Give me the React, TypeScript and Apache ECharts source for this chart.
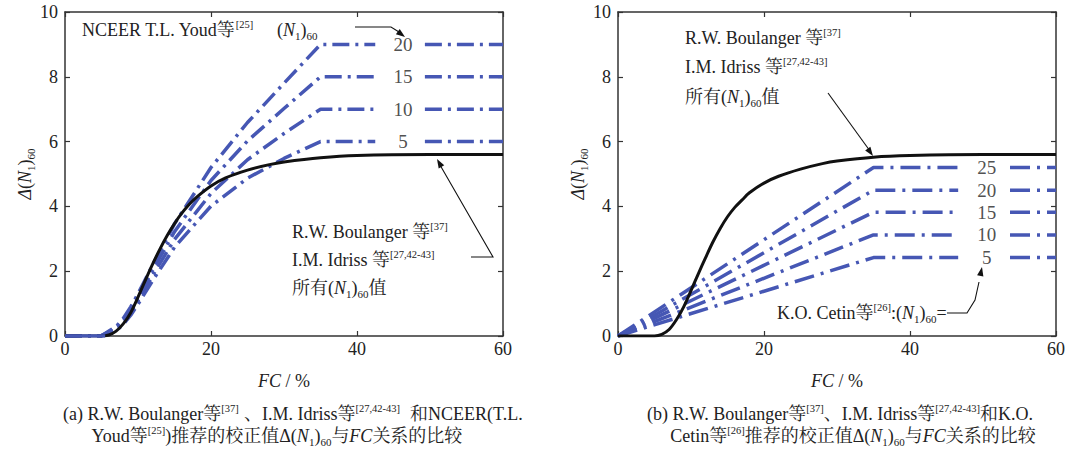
import React, { useEffect, useRef } from 'react';
import * as echarts from 'echarts';

const SERIF = '"Liberation Serif", "Times New Roman", "Noto Serif CJK SC", "Noto Sans CJK SC", serif';
const BLUE = '#4657b4';
const INK = '#222';
const LINE = '#333';

// Axes
const X_MIN = 0, X_MAX = 60, X_STEP = 20;
const Y_MIN = 0, Y_MAX = 10, Y_STEP = 2;

// Boulanger & Idriss curve, panel (a) and panel (b)
const FC_BLACK = [0, 5, 6, 7, 8, 9, 10, 11, 12, 13, 14, 15, 16, 17, 18, 20, 22, 25, 28, 30, 35, 40, 50, 60];
const D_BLACK_A = [0, 0, 0.03, 0.15, 0.38, 0.72, 1.2, 1.72, 2.22, 2.68, 3.1, 3.47, 3.79, 4.06, 4.28, 4.63, 4.88, 5.12, 5.29, 5.37, 5.5, 5.57, 5.6, 5.6];
const D_BLACK_B = [0, 0, 0.05, 0.2, 0.5, 0.9, 1.4, 1.92, 2.42, 2.9, 3.32, 3.68, 3.97, 4.2, 4.42, 4.72, 4.93, 5.15, 5.32, 5.4, 5.52, 5.57, 5.6, 5.6];

// NCEER (Youd) curves, null = gap for the label
const FC_NCEER = [0, 5, 7, 8, 9, 10, 12, 15, 20, 25, 30, 35, 42.5, null, 49.3, 60];
const NCEER_5 = [0, 0.01, 0.16, 0.36, 0.64, 0.98, 1.71, 2.74, 4.01, 4.87, 5.48, 6, 6, null, 6, 6];
const NCEER_10 = [0, 0.01, 0.21, 0.42, 0.73, 1.09, 1.87, 2.98, 4.4, 5.44, 6.25, 7, 7, null, 7, 7];
const NCEER_15 = [0, 0.01, 0.25, 0.49, 0.81, 1.19, 2.03, 3.22, 4.8, 6.02, 7.02, 8, 8, null, 8, 8];
const NCEER_20 = [0, 0.01, 0.29, 0.55, 0.9, 1.3, 2.19, 3.46, 5.2, 6.59, 7.8, 9, 9, null, 9, 9];
const NCEER_FLAT_FC = [0, 5.5];
const NCEER_FLAT_D = [0, 0];
const NCEER_LABELS = ['5', '10', '15', '20'];
const NCEER_LEVELS = [6, 7, 8, 9];
const NCEER_LABEL_FC = 46.3;

// Cetin curves
const FC_CETIN = [0, 35, 46.6, null, 53.7, 60];
const CETIN_5 = [0, 2.42, 2.42, null, 2.42, 2.42];
const CETIN_10 = [0, 3.12, 3.12, null, 3.12, 3.12];
const CETIN_15 = [0, 3.82, 3.82, null, 3.82, 3.82];
const CETIN_20 = [0, 4.5, 4.5, null, 4.5, 4.5];
const CETIN_25 = [0, 5.2, 5.2, null, 5.2, 5.2];
const CETIN_LABELS = ['5', '10', '15', '20', '25'];
const CETIN_LEVELS = [2.42, 3.12, 3.82, 4.5, 5.2];
const CETIN_LABEL_FC = 50.5;

const pairs = (fc: (number | null)[], v: (number | null)[]) =>
  fc.map((x, i) =>
    x === null || v[i] === null
      ? [((fc[i - 1] as number) + (fc[i + 1] as number)) / 2, '-']
      : [x, v[i]]
  );

const RICH: any = {
  n: { fontSize: 18, fontFamily: SERIF, fill: INK, color: INK, lineHeight: 22 },
  i: { fontSize: 18, fontFamily: SERIF, fontStyle: 'italic', fill: INK, color: INK, lineHeight: 22 },
  sup: { fontSize: 10.5, fontFamily: SERIF, fill: INK, color: INK, verticalAlign: 'top', lineHeight: 13 },
  sub: { fontSize: 11, fontFamily: SERIF, fill: INK, color: INK, verticalAlign: 'bottom', lineHeight: 13 },
  c: { fontSize: 18, fontFamily: SERIF, fill: INK, color: INK, lineHeight: 22 },
  ci: { fontSize: 18, fontFamily: SERIF, fontStyle: 'italic', fill: INK, color: INK, lineHeight: 22 },
};

function txt(text: string, x: number, y: number, align = 'left') {
  return {
    type: 'text',
    silent: true,
    z: 100,
    style: {
      text,
      x,
      y,
      rich: RICH,
      fontSize: 18,
      fontFamily: SERIF,
      fill: INK,
      align,
      verticalAlign: 'middle',
    },
  };
}

function head(tx: number, ty: number, fx: number, fy: number) {
  const dx = tx - fx, dy = ty - fy;
  const L = Math.sqrt(dx * dx + dy * dy);
  const ux = dx / L, uy = dy / L;
  const bx = tx - ux * 9, by = ty - uy * 9;
  const px = -uy * 3.2, py = ux * 3.2;
  return {
    type: 'polygon',
    silent: true,
    z: 100,
    shape: { points: [[tx, ty], [bx + px, by + py], [bx - px, by - py]] },
    style: { fill: '#111' },
  };
}

function pline(points: number[][]) {
  return {
    type: 'polyline',
    silent: true,
    z: 100,
    shape: { points },
    style: { stroke: '#111', lineWidth: 1.1, fill: null },
  };
}

function xAxis(gridIndex: number, position: string, main: boolean) {
  return {
    type: 'value',
    gridIndex,
    position,
    min: X_MIN,
    max: X_MAX,
    interval: X_STEP,
    axisLine: { show: true, onZero: false, lineStyle: { color: LINE, width: 1.5 } },
    axisTick: { show: true, inside: true, length: 5, lineStyle: { color: LINE, width: 1.2 } },
    axisLabel: { show: main, color: INK, fontSize: 18, fontFamily: SERIF, margin: 4 },
    splitLine: { show: false },
    name: main ? '{i|FC} / %' : '',
    nameLocation: 'middle',
    nameGap: 34,
    nameTextStyle: { rich: RICH, fontSize: 18, fontFamily: SERIF, color: INK },
  };
}

function yAxis(gridIndex: number, position: string, main: boolean) {
  return {
    type: 'value',
    gridIndex,
    position,
    min: Y_MIN,
    max: Y_MAX,
    interval: Y_STEP,
    axisLine: { show: true, onZero: false, lineStyle: { color: LINE, width: 1.5 } },
    axisTick: { show: true, inside: true, length: 5, lineStyle: { color: LINE, width: 1.2 } },
    axisLabel: { show: main, color: INK, fontSize: 18, fontFamily: SERIF, margin: 7 },
    splitLine: { show: false },
    name: main ? '{i|Δ}({i|N}{sub|1}){sub|60}' : '',
    nameLocation: 'middle',
    nameRotate: 90,
    nameGap: 26,
    nameTextStyle: { rich: RICH, fontSize: 18, fontFamily: SERIF, color: INK },
  };
}

function dashLine(name: string, data: any[], xi: number, dash: number[]) {
  return {
    name,
    type: 'line',
    xAxisIndex: xi,
    yAxisIndex: xi,
    data,
    showSymbol: false,
    symbol: 'none',
    connectNulls: false,
    z: 2,
    lineStyle: { color: BLUE, width: 3.5, type: dash, cap: 'butt' },
  };
}

function blackLine(data: any[], xi: number) {
  return {
    type: 'line',
    xAxisIndex: xi,
    yAxisIndex: xi,
    symbol: 'none',
    smooth: 0.3,
    z: 3,
    data,
    lineStyle: { color: '#111', width: 3 },
  };
}

function labelSeries(xi: number, fc: number, levels: number[], labels: string[]) {
  return {
    type: 'scatter',
    xAxisIndex: xi,
    yAxisIndex: xi,
    symbolSize: 1,
    itemStyle: { color: 'rgba(0,0,0,0)' },
    z: 5,
    data: levels.map((v, i) => [fc, v, labels[i]]),
    label: {
      show: true,
      position: 'inside',
      formatter: (p: any) => p.value[2],
      color: INK,
      fontSize: 19,
      fontFamily: SERIF,
    },
  };
}

export default function App() {
  const ref = useRef<HTMLDivElement>(null);
  useEffect(() => {
    const chart = echarts.init(ref.current!, null, { renderer: 'svg' });
    const DL = [17, 6, 3, 6];
    const DR = [20, 7, 3, 7];
    chart.setOption({
      animation: false,
      backgroundColor: '#fff',
      grid: [
        { left: 65, top: 12, width: 438, height: 324 },
        { left: 618, top: 12, width: 438, height: 324 },
      ],
      xAxis: [xAxis(0, 'bottom', true), xAxis(0, 'top', false), xAxis(1, 'bottom', true), xAxis(1, 'top', false)],
      yAxis: [yAxis(0, 'left', true), yAxis(0, 'right', false), yAxis(1, 'left', true), yAxis(1, 'right', false)],
      series: [
        dashLine('N20', pairs(FC_NCEER, NCEER_20), 0, DL),
        dashLine('N15', pairs(FC_NCEER, NCEER_15), 0, DL),
        dashLine('N10', pairs(FC_NCEER, NCEER_10), 0, DL),
        dashLine('N5', pairs(FC_NCEER, NCEER_5), 0, DL),
        {
          type: 'line', xAxisIndex: 0, yAxisIndex: 0, symbol: 'none', z: 4,
          data: pairs(NCEER_FLAT_FC, NCEER_FLAT_D),
          lineStyle: { color: BLUE, width: 3.5 },
        },
        blackLine(pairs(FC_BLACK, D_BLACK_A), 0),
        labelSeries(0, NCEER_LABEL_FC, NCEER_LEVELS, NCEER_LABELS),
        blackLine(pairs(FC_BLACK, D_BLACK_B), 2),
        dashLine('C25', pairs(FC_CETIN, CETIN_25), 2, DR),
        dashLine('C20', pairs(FC_CETIN, CETIN_20), 2, DR),
        dashLine('C15', pairs(FC_CETIN, CETIN_15), 2, DR),
        dashLine('C10', pairs(FC_CETIN, CETIN_10), 2, DR),
        dashLine('C5', pairs(FC_CETIN, CETIN_5), 2, DR),
        labelSeries(2, CETIN_LABEL_FC, CETIN_LEVELS, CETIN_LABELS),
      ],
      graphic: [
        // left chart annotations
        txt('{n|NCEER T.L. Youd等}{sup|[25]}', 82, 30),
        txt('({i|N}{sub|1}){sub|60}', 277, 30),
        pline([[355, 27], [391, 27], [399, 32]]),
        head(405, 37, 397, 31),
        txt('{n|R.W. Boulanger 等}{sup|[37]}', 292, 232),
        txt('{n|I.M. Idriss 等}{sup|[27,42-43]}', 292, 260),
        txt('{n|所有(}{i|N}{sub|1}{n|)}{sub|60}{n|值}', 292, 288),
        pline([[471, 257], [493, 257], [440, 165]]),
        head(437, 159, 493, 257),
        // right chart annotations
        txt('{n|R.W. Boulanger 等}{sup|[37]}', 685, 38),
        txt('{n|I.M. Idriss 等}{sup|[27,42-43]}', 685, 67),
        txt('{n|所有(}{i|N}{sub|1}{n|)}{sub|60}{n|值}', 685, 97),
        pline([[828, 93], [870, 151]]),
        head(873, 156, 828, 93),
        txt('{n|K.O. Cetin等}{sup|[26]}{n|:(}{i|N}{sub|1}{n|)}{sub|60}{n|=}', 777, 313),
        pline([[947, 313], [967, 313], [975, 300], [979, 282]]),
        head(982, 267, 979, 282),
        // captions (first line of (a) is justified in the reference)
        txt('{c|(a) R.W. Boulanger等}{sup|[37]}', 63, 414),
        txt('{c|、I.M. Idriss等}{sup|[27,42-43]}', 244, 414),
        txt('{c|和NCEER(T.L.}', 410, 414),
        txt('{c|Youd等}{sup|[25]}{c|)推荐的校正值Δ(}{ci|N}{sub|1}{c|)}{sub|60}{c|与}{ci|FC}{c|关系的比较}', 277, 436, 'center'),
        txt('{c|(b) R.W. Boulanger等}{sup|[37]}{c|、I.M. Idriss等}{sup|[27,42-43]}{c|和K.O.}', 840, 414, 'center'),
        txt('{c|Cetin等}{sup|[26]}{c|推荐的校正值Δ(}{ci|N}{sub|1}{c|)}{sub|60}{c|与}{ci|FC}{c|关系的比较}', 853, 436, 'center'),
      ],
    });
    return () => chart.dispose();
  }, []);
  return (
    <div
      ref={ref}
      style={{ position: 'absolute', left: 0, top: 0, width: 1071, height: 449, background: '#fff' }}
    />
  );
}
